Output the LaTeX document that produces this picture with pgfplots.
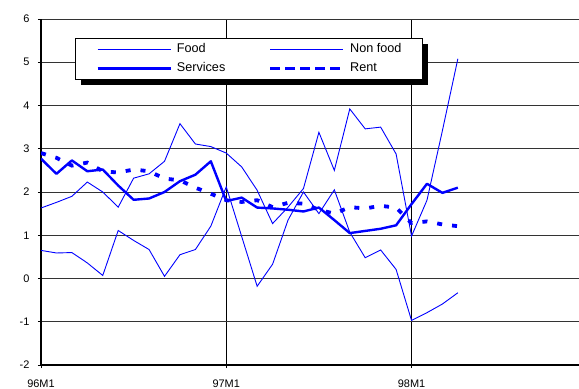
\documentclass[border=0pt]{standalone}
\usepackage{pgfplots}
\pgfplotsset{compat=1.18}
\usepackage{pgfplotstable}
\usepackage{fontspec}
\setmainfont{Liberation Sans}
\usetikzlibrary{shadows}

% keep the legend box shadow off the sample lines inside it
\makeatletter
\tikzset{no preactions/.code={\let\tikz@preactions\pgfutil@empty}}
\makeatother

% Monthly inflation components, 96M1 = 0
\pgfplotstableread{
i  food  nonfood  services  rent
0  1.63   0.65    2.77      2.90
1  1.76   0.59    2.42      2.79
2  1.90   0.60    2.73      2.61
3  2.23   0.36    2.48      2.68
4  2.00   0.07    2.52      2.48
5  1.65   1.11    2.15      2.45
6  2.32   0.88    1.82      2.52
7  2.42   0.67    1.85      2.48
8  2.71   0.05    2.00      2.31
9  3.58   0.55    2.25      2.27
10 3.11   0.67    2.40      2.10
11 3.05   1.21    2.71      1.96
12 2.90   2.12    1.79      1.81
13 2.58   0.97    1.87      1.77
14 2.04  -0.18    1.64      1.81
15 1.27   0.33    1.62      1.65
16 1.65   1.35    1.59      1.75
17 2.08   2.00    1.55      1.73
18 3.38   1.50    1.64      1.59
19 2.50   2.05    1.35      1.50
20 3.92   1.07    1.05      1.65
21 3.46   0.48    1.10      1.62
22 3.50   0.66    1.15      1.68
23 2.88   0.21    1.23      1.64
24 0.98  -0.97    1.72      1.28
25 1.81  -0.79    2.19      1.32
26 3.42  -0.59    1.98      1.25
27 5.08  -0.33    2.10      1.21
}\cpi

\begin{document}
\begin{tikzpicture}
\begin{axis}[
  scale only axis,
  width=555.8bp, height=346bp,
  xmin=0, xmax=36, ymin=-2, ymax=6,
  axis x line=bottom, axis y line=left,
  axis line style={-, black, line width=1.6bp},
  xtick={0,12,24}, xticklabels={96M1,97M1,98M1},
  ytick={-2,-1,0,1,2,3,4,5,6},
  xmajorgrids, ymajorgrids,
  x grid style={black, line width=1.3bp},
  y grid style={black!80, line width=1bp},
  tick align=outside, major tick length=3bp,
  tick style={black, line width=0.9bp},
  ticklabel style={font=\fontsize{11}{13}\selectfont},
  /pgf/number format/assume math mode=true,
  yticklabel style={xshift=-5bp},
  xticklabel style={yshift=-8bp},
  legend columns=2,
  legend cell align=left,
  legend image code/.code={\draw[no preactions, #1] (0bp,0bp) -- (73bp,0bp);},
  legend style={
    at={(axis description cs:0.0612,0.945)}, anchor=north west,
    draw=black, line width=0.8bp, fill=white,
    inner xsep=21bp, inner ysep=5bp,
    row sep=7bp,
    font=\fontsize{12.7}{15}\selectfont,
    nodes={inner sep=0pt, text height=9.2bp, text depth=2.8bp, anchor=west},
    /tikz/every odd column/.style={column sep=5bp},
    /tikz/every even column/.style={column sep=43bp},
    drop shadow={shadow xshift=6bp, shadow yshift=-6bp, fill=black, opacity=1},
  },
]
\coordinate (o) at (rel axis cs:0,0);

\addplot[blue, line width=0.9bp, forget plot] table[x=i, y=food] {\cpi};
\addplot[blue, line width=0.9bp, forget plot] table[x=i, y=nonfood] {\cpi};
\addplot[blue, line width=2.4bp, line join=round, forget plot] table[x=i, y=services] {\cpi};
\addplot[blue, line width=3.8bp, dash pattern=on 5bp off 10bp, forget plot] table[x=i, y=rent] {\cpi};

\addlegendimage{blue, line width=0.9bp}
\addlegendentry{Food}
\addlegendimage{blue, line width=0.9bp}
\addlegendentry{Non food}
\addlegendimage{blue, line width=2.4bp}
\addlegendentry{Services}
\addlegendimage{blue, line width=3.8bp, dash pattern=on 10bp off 5bp}
\addlegendentry{Rent}
\end{axis}
\pgfresetboundingbox
\path[use as bounding box] ([shift={(-41bp,-24bp)}]o) rectangle ++(579bp,389bp);
\end{tikzpicture}
\end{document}
